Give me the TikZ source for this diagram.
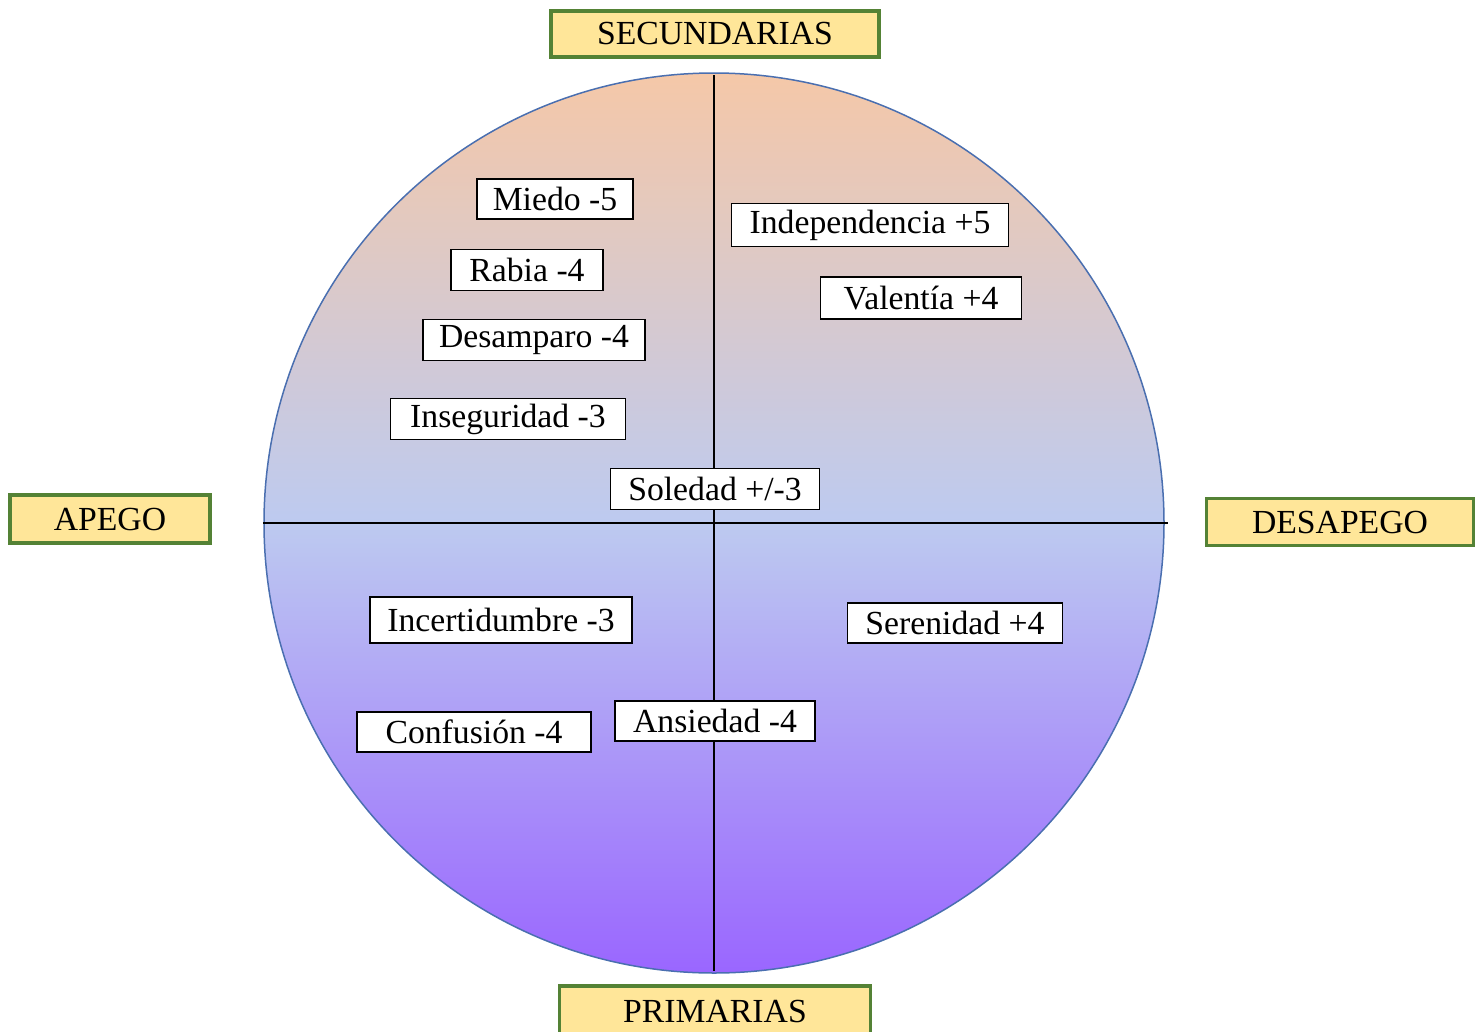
\documentclass[tikz,border=0pt]{standalone}
\usepackage{fontspec}
\setmainfont{Liberation Serif}
\definecolor{peach}{HTML}{F5C8A8}
\definecolor{midblue}{HTML}{BDCAF0}
\definecolor{violet2}{HTML}{9A66FF}
\definecolor{rimblue}{HTML}{4A6FB0}
\definecolor{labfill}{HTML}{FFE699}
\definecolor{labedge}{HTML}{548235}
\begin{document}
\begin{tikzpicture}[x=1pt,y=-1pt,
  emo/.style={draw=black,line width=1.8pt,fill=white,inner sep=0pt,
    font=\fontsize{33.7}{40}\selectfont},
  axislab/.style={draw=labedge,line width=3.5pt,fill=labfill,inner sep=0pt,
    font=\fontsize{33.7}{40}\selectfont}]
\useasboundingbox (0,0) rectangle (1483,1031);
\clip (0,0) rectangle (1483,1031);
% circle
\coordinate (c) at (714,523);
\shade[top color=peach,bottom color=violet2,middle color=midblue] (c) circle[radius=450];
\draw[rimblue,line width=1.5pt] (c) circle[radius=450];
\coordinate (top) at (714,75);
\coordinate (bot) at (714,971);
\coordinate (lft) at (263,523);
\coordinate (rgt) at (1168,523);
\draw[black,line width=1.8pt] (top) -- (bot);
\draw[black,line width=1.8pt] (lft) -- (rgt);
% axis labels
\node[axislab,minimum width=328,minimum height=46] (sec) at (715,34) {SECUNDARIAS};
\node[axislab,minimum width=200,minimum height=48] (ape) at (110,519) {APEGO};
\node[axislab,minimum width=267,minimum height=47] (des) at (1340,522) {DESAPEGO};
\node[axislab,minimum width=311,minimum height=50] (pri) at (715,1011) {PRIMARIAS};
% emotions
\node[emo,minimum width=156,minimum height=40] (miedo) at (555,199) {Miedo -5};
\node[emo,minimum width=152,minimum height=41] (rabia) at (527,270) {Rabia -4};
\node[emo,minimum width=222,minimum height=41] (desamp) at (534,340) {Desamparo -4};
\node[emo,minimum width=235,minimum height=41] (inseg) at (508,419) {Inseguridad -3};
\node[emo,minimum width=209,minimum height=41] (soled) at (715,489) {Soledad +/-3};
\node[emo,minimum width=277,minimum height=43] (indep) at (870,225) {Independencia +5};
\node[emo,minimum width=201,minimum height=42] (valen) at (921,298) {Valentía +4};
\node[emo,minimum width=262,minimum height=46] (incer) at (501,620) {Incertidumbre -3};
\node[emo,minimum width=215,minimum height=40] (seren) at (955,623) {Serenidad +4};
\node[emo,minimum width=234,minimum height=40] (confu) at (474,732) {Confusión -4};
\node[emo,minimum width=200,minimum height=40] (ansie) at (715,721) {Ansiedad -4};
\end{tikzpicture}
\end{document}
